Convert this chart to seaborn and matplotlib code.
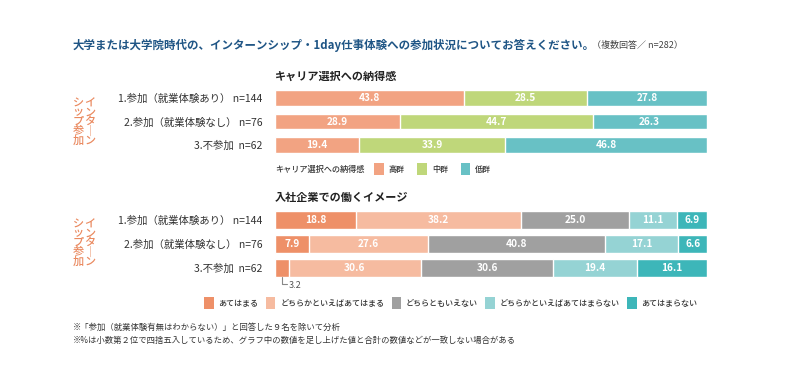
import numpy as np
import pandas as pd
import seaborn as sns
import matplotlib.pyplot as plt
from matplotlib.patches import Patch

# データ
groups = ["1.参加（就業体験あり） n=144", "2.参加（就業体験なし） n=76", "3.不参加  n=62"]

nattoku_cats = ["高群", "中群", "低群"]
nattoku_high = [43.8, 28.9, 19.4]
nattoku_mid = [28.5, 44.7, 33.9]
nattoku_low = [27.8, 26.3, 46.8]

image_cats = ["あてはまる", "どちらかといえばあてはまる", "どちらともいえない",
              "どちらかといえばあてはまらない", "あてはまらない"]
image_a = [18.8, 7.9, 3.2]
image_b = [38.2, 27.6, 30.6]
image_c = [25.0, 40.8, 30.6]
image_d = [11.1, 17.1, 19.4]
image_e = [6.9, 6.6, 16.1]

nattoku_colors = ["#F2A382", "#BFD77A", "#68C1C5"]
image_colors = ["#EE9068", "#F6BBA0", "#A0A0A0", "#95D3D4", "#3DB6B9"]

sns.set_theme(style="white")
plt.rcParams['font.family'] = ['Noto Sans CJK JP', 'DejaVu Sans']

W, H = 790, 380
fig = plt.figure(figsize=(W / 100, H / 100), dpi=100)


def px_axes(left, top, width, height):
    return fig.add_axes([left / W, 1 - (top + height) / H, width / W, height / H])


def stacked(ax, cats, series, colors, bar_h, min_label=4):
    df = pd.DataFrame(dict(zip(cats, series)), index=groups)
    cum = df.cumsum(axis=1)
    # 累積値の長いものから順に重ねて描く
    for cat, col in reversed(list(zip(cats, colors))):
        sns.barplot(x=cum[cat].values, y=groups, color=col, orient="h", width=bar_h,
                    saturation=1, edgecolor="white", linewidth=1.0, ax=ax)
    for cat in cats:
        for i, g in enumerate(groups):
            v = df.loc[g, cat]
            if v < min_label:
                continue
            ax.text(cum.loc[g, cat] - v / 2, i + 0.02, f"{v:.1f}", ha="center", va="center",
                    color="white", fontsize=7.3, fontweight="bold")
    ax.set_xlim(0, 100)
    ax.set_ylim(2.5, -0.5)
    ax.set_xlabel("")
    ax.set_ylabel("")
    ax.set_xticks([])
    ax.tick_params(axis="y", length=0, pad=9, labelsize=7.5, labelcolor="#333333")
    for s in ax.spines.values():
        s.set_visible(False)
    return df, cum


def legend(handles_cats, colors, x, y, ncol, colspace):
    lg = fig.legend(handles=[Patch(facecolor=c, edgecolor="none", label=l)
                             for l, c in zip(handles_cats, colors)],
                    loc="center left", bbox_to_anchor=(x / W, 1 - y / H), ncol=ncol, frameon=False,
                    prop={"size": 5.8, "weight": "medium"}, handlelength=1.2, handleheight=2.0,
                    handletextpad=0.6, columnspacing=colspace, borderpad=0, borderaxespad=0)
    for t in lg.get_texts():
        t.set_color("#333333")
    return lg


# タイトル
title = fig.text(73 / W, 1 - 45 / H,
                 "大学または大学院時代の、インターンシップ・1day仕事体験への参加状況についてお答えください。",
                 fontsize=8.25, fontweight="bold", color="#1F5585", va="center")
fig.canvas.draw()
bb = title.get_window_extent()
fig.text((bb.x1 - 3) / W, 1 - 45 / H, "（複数回答／ n=282）", fontsize=6.5, color="#444444", va="center")

# グラフ1
ax1 = px_axes(275, 86.25, 432, 70.5)
stacked(ax1, nattoku_cats, [nattoku_high, nattoku_mid, nattoku_low], nattoku_colors, 0.68)
fig.text(275 / W, 1 - 76 / H, "キャリア選択への納得感", fontsize=8, fontweight="bold",
         color="#222222", va="center")
fig.text(275 / W, 1 - 169 / H, "キャリア選択への納得感", fontsize=5.9, fontweight="medium",
         color="#333333", va="center")
legend(nattoku_cats, nattoku_colors, 374, 169, 3, 1.6)

# グラフ2
ax2 = px_axes(275, 208, 432, 72)
stacked(ax2, image_cats, [image_a, image_b, image_c, image_d, image_e], image_colors, 0.71)
fig.text(275 / W, 1 - 197 / H, "入社企業での働くイメージ", fontsize=8, fontweight="bold",
         color="#222222", va="center")
# 3.2 の注記
x0 = image_a[2] / 2
ax2.plot([x0, x0, 2.8], [2.38, 2.67, 2.67], color="#888888", lw=0.8, clip_on=False)
ax2.text(3.2, 2.72, f"{image_a[2]:.1f}", fontsize=6.5, color="#555555", va="center", ha="left")
legend(image_cats, image_colors, 204, 303, 5, 0.9)

# 縦書きラベル
orange = "#EA8A60"
for yc in (122, 243):
    fig.text(90 / W, 1 - yc / H, "イ\nン\nタ\n｜\nン", fontsize=8, color=orange,
             ha="center", va="center", linespacing=0.9, fontweight="medium")
    fig.text(78 / W, 1 - yc / H, "シ\nッ\nプ\n参\n加", fontsize=8, color=orange,
             ha="center", va="center", linespacing=0.9, fontweight="medium")

# 注記
fig.text(73 / W, 1 - 327 / H, "※「参加（就業体験有無はわからない）」と回答した９名を除いて分析",
         fontsize=6, color="#333333", va="center")
fig.text(73 / W, 1 - 340 / H,
         "※%は小数第２位で四捨五入しているため、グラフ中の数値を足し上げた値と合計の数値などが一致しない場合がある",
         fontsize=6, color="#333333", va="center")

fig.savefig("out.png", dpi=100, facecolor="white")
